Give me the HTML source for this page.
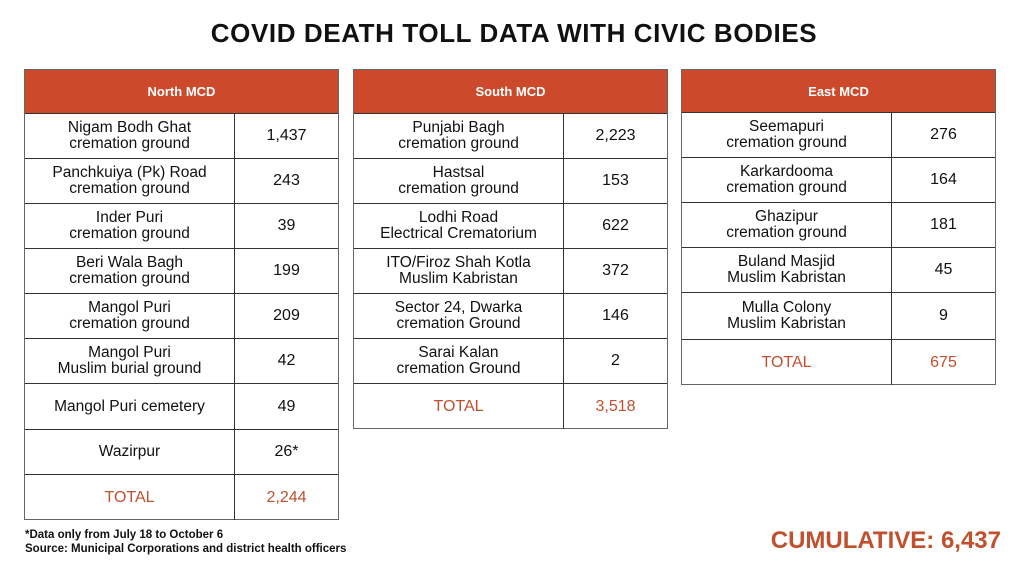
<!DOCTYPE html>
<html><head><meta charset="utf-8"><style>
body{margin:0;width:1020px;height:569px;background:#fff;font-family:"Liberation Sans",sans-serif;position:relative;overflow:hidden;color:#111}
.t{position:absolute;border:1.5px solid #666;box-sizing:border-box}
.h{background:#cc4a2b;color:#fff;font-weight:bold;font-size:13px;display:flex;align-items:center;justify-content:center;border-bottom:1.5px solid #333;box-sizing:border-box}
.r{display:flex;border-bottom:1px solid #333;box-sizing:border-box;height:45px}
.r:last-child{border-bottom:none}
.a{flex:0 0 209px;border-right:1px solid #333;display:flex;align-items:center;justify-content:center;text-align:center;font-size:15.5px;line-height:16px}
.b{flex:1;display:flex;align-items:center;justify-content:center;font-size:16px}
.tot .a,.tot .b{color:#c0502e;font-size:16px}
</style></head><body>
<div style="position:absolute;left:0;width:1028px;top:18px;text-align:center;font-weight:bold;font-size:26px;letter-spacing:0.6px">COVID DEATH TOLL DATA WITH CIVIC BODIES</div>

<div class="t" style="left:24px;top:69px;width:315px;height:451px">
<div class="h" style="height:44px">North MCD</div>
<div class="r"><div class="a">Nigam Bodh Ghat<br>cremation ground</div><div class="b">1,437</div></div>
<div class="r"><div class="a">Panchkuiya (Pk) Road<br>cremation ground</div><div class="b">243</div></div>
<div class="r"><div class="a">Inder Puri<br>cremation ground</div><div class="b">39</div></div>
<div class="r"><div class="a">Beri Wala Bagh<br>cremation ground</div><div class="b">199</div></div>
<div class="r"><div class="a">Mangol Puri<br>cremation ground</div><div class="b">209</div></div>
<div class="r"><div class="a">Mangol Puri<br>Muslim burial ground</div><div class="b">42</div></div>
<div class="r" style="height:46px"><div class="a">Mangol Puri cemetery</div><div class="b">49</div></div>
<div class="r"><div class="a">Wazirpur</div><div class="b">26*</div></div>
<div class="r tot"><div class="a">TOTAL</div><div class="b">2,244</div></div>
</div>

<div class="t" style="left:353px;top:69px;width:315px;height:360px">
<div class="h" style="height:44px">South MCD</div>
<div class="r"><div class="a">Punjabi Bagh<br>cremation ground</div><div class="b">2,223</div></div>
<div class="r"><div class="a">Hastsal<br>cremation ground</div><div class="b">153</div></div>
<div class="r"><div class="a">Lodhi Road<br>Electrical Crematorium</div><div class="b">622</div></div>
<div class="r"><div class="a">ITO/Firoz Shah Kotla<br>Muslim Kabristan</div><div class="b">372</div></div>
<div class="r"><div class="a">Sector 24, Dwarka<br>cremation Ground</div><div class="b">146</div></div>
<div class="r"><div class="a">Sarai Kalan<br>cremation Ground</div><div class="b">2</div></div>
<div class="r tot"><div class="a">TOTAL</div><div class="b">3,518</div></div>
</div>

<div class="t" style="left:681px;top:69px;width:315px;height:316px">
<div class="h" style="height:43px">East MCD</div>
<div class="r"><div class="a">Seemapuri<br>cremation ground</div><div class="b">276</div></div>
<div class="r"><div class="a">Karkardooma<br>cremation ground</div><div class="b">164</div></div>
<div class="r"><div class="a">Ghazipur<br>cremation ground</div><div class="b">181</div></div>
<div class="r"><div class="a">Buland Masjid<br>Muslim Kabristan</div><div class="b">45</div></div>
<div class="r" style="height:47px"><div class="a">Mulla Colony<br>Muslim Kabristan</div><div class="b">9</div></div>
<div class="r tot"><div class="a">TOTAL</div><div class="b">675</div></div>
</div>

<div style="position:absolute;left:25px;top:528px;font-size:11.5px;font-weight:bold;line-height:14px">*Data only from July 18 to October 6<br>Source: Municipal Corporations and district health officers</div>
<div style="position:absolute;right:19px;top:527px;font-size:24px;font-weight:bold;color:#c0502e">CUMULATIVE: 6,437</div>
</body></html>
